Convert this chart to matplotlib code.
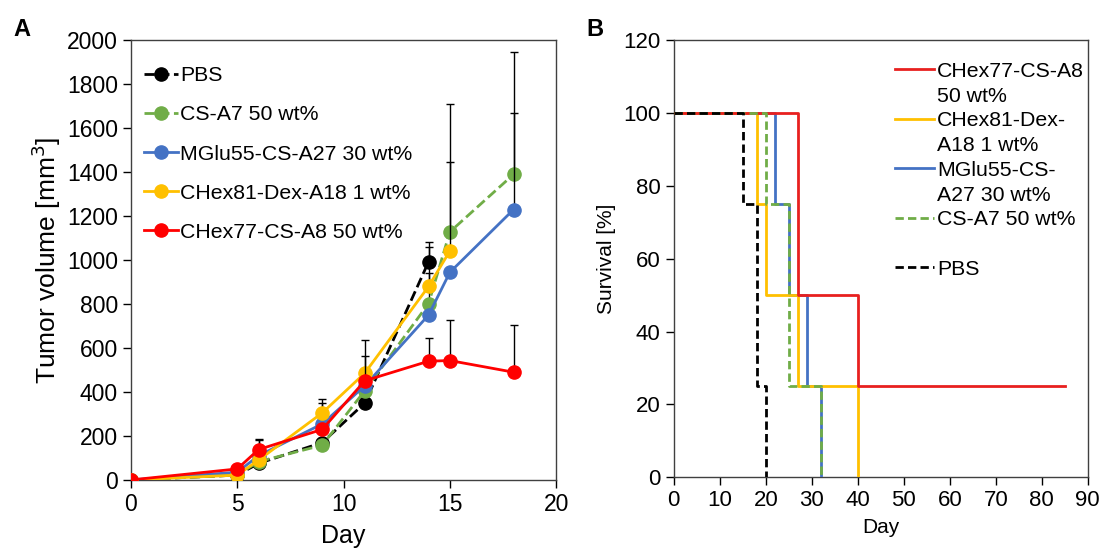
import numpy as np
import matplotlib
matplotlib.use("Agg")
import matplotlib.pyplot as plt
from matplotlib.lines import Line2D

plt.rcParams["font.family"] = ["Liberation Sans", "DejaVu Sans"]

# ---- panel A: tumor volume ----
days = [0, 5, 6, 9, 11, 14, 15, 18]
pbs_days = [0, 5, 6, 9, 11, 14]
pbs_vol = [0, 22, 75, 170, 350, 992]
pbs_err = [0, 0, 20, 0, 0, 88]
csa7_vol = [0, 22, 83, 158, 406, 802, 1128, 1390]
csa7_err = [0, 0, 0, 0, 0, 140, 580, 558]
mglu_vol = [0, 35, 110, 255, 428, 750, 944, 1230]
mglu_err = [0, 0, 0, 93, 0, 0, 0, 440]
chex81_vol = [0, 22, 90, 305, 486, 880, 1041]
chex81_err = [0, 0, 90, 63, 150, 180, 404]
chex77_vol = [0, 50, 138, 230, 451, 540, 543, 490]
chex77_err = [0, 0, 50, 0, 113, 107, 183, 214]

# ---- panel B: survival ----
surv_pbs_d = [0, 15, 18, 20]
surv_pbs = [100, 75, 25, 0]
surv_chex81_d = [0, 18, 20, 27, 40]
surv_chex81 = [100, 75, 50, 25, 0]
surv_csa7_d = [0, 20, 25, 32]
surv_csa7 = [100, 75, 25, 0]
surv_mglu_d = [0, 22, 25, 29, 32]
surv_mglu = [100, 75, 50, 25, 0]
surv_chex77_d = [0, 27, 40, 85]
surv_chex77 = [100, 50, 25, 25]

RED = "#FF0000"
YEL = "#FFC000"
BLU = "#4472C4"
GRN = "#70AD47"
BLK = "#000000"

fig = plt.figure(figsize=(11.1, 5.51), dpi=100)
ax = fig.add_axes([0.118, 0.129, 0.383, 0.798])
bx = fig.add_axes([0.607, 0.134, 0.373, 0.793])

def series(x, y, err, color, ls, label, z):
    n = len(y)
    x = x[:n]
    ax.errorbar(x, y, yerr=[np.zeros(n), err], fmt="none", ecolor="black",
                elinewidth=1.0, capsize=3, capthick=1.0, zorder=z - 0.5)
    ax.plot(x, y, ls, color=color, lw=2, marker="o", markersize=9.5,
            label=label, zorder=z)

series(pbs_days, pbs_vol, pbs_err, BLK, "--", "PBS", 3)
series(days, csa7_vol, csa7_err, GRN, "--", "CS-A7 50 wt%", 4)
series(days, mglu_vol, mglu_err, BLU, "-", "MGlu55-CS-A27 30 wt%", 5)
series(days, chex81_vol, chex81_err, YEL, "-", "CHex81-Dex-A18 1 wt%", 6)
series(days, chex77_vol, chex77_err, RED, "-", "CHex77-CS-A8 50 wt%", 7)

ax.set_xlim(0, 20)
ax.set_ylim(0, 2000)
ax.set_xticks(range(0, 21, 5))
ax.set_yticks(range(0, 2001, 200))
ax.tick_params(direction="out", length=6, labelsize=16.5, width=1)
ax.set_xlabel("Day", fontsize=18, labelpad=6)
ax.set_ylabel("Tumor volume [mm$^3$]", fontsize=19, labelpad=3)
for s in ax.spines.values():
    s.set_linewidth(1)
    s.set_color("#404040")
ax.legend(loc="upper left", bbox_to_anchor=(0.0, 0.97), frameon=False,
          fontsize=15.3, handlelength=1.6, handletextpad=0.1,
          labelspacing=0.95, borderaxespad=0.2)

# survival steps
bx.plot(surv_chex77_d, surv_chex77, drawstyle="steps-post", color="#E8201F", lw=2, zorder=5)
bx.plot(surv_chex81_d, surv_chex81, drawstyle="steps-post", color=YEL, lw=2, zorder=4)
bx.plot(surv_mglu_d, surv_mglu, drawstyle="steps-post", color=BLU, lw=2, zorder=3)
bx.plot(surv_csa7_d, surv_csa7, drawstyle="steps-post", color=GRN, lw=2, ls=(0, (3, 1.5)), zorder=6)
bx.plot(surv_pbs_d, surv_pbs, drawstyle="steps-post", color=BLK, lw=2, ls=(0, (3, 1.5)), zorder=7)

bx.set_xlim(0, 90)
bx.set_ylim(0, 120)
bx.set_xticks(range(0, 91, 10))
bx.set_yticks(range(0, 121, 20))
bx.tick_params(direction="out", length=6, labelsize=16, width=1)
bx.set_xlabel("Day", fontsize=15, labelpad=5)
bx.set_ylabel("Survival [%]", fontsize=15, labelpad=5)
for s in bx.spines.values():
    s.set_linewidth(1)
    s.set_color("#404040")

blank = Line2D([], [], color="none")
handles = [
    Line2D([], [], color="#E8201F", lw=2), blank,
    Line2D([], [], color=YEL, lw=2), blank,
    Line2D([], [], color=BLU, lw=2), blank,
    Line2D([], [], color=GRN, lw=2, ls=(0, (3, 1.5))), blank,
    Line2D([], [], color=BLK, lw=2, ls=(0, (3, 1.5))),
]
labels = ["CHex77-CS-A8", "50 wt%", "CHex81-Dex-", "A18 1 wt%",
          "MGlu55-CS-", "A27 30 wt%", "CS-A7 50 wt%", "", "PBS"]
bx.legend(handles, labels, loc="upper left", bbox_to_anchor=(0.515, 0.97),
          frameon=False, fontsize=15.3, handlelength=1.8, handletextpad=0.15,
          labelspacing=0.27, borderaxespad=0.0)

fig.text(0.012, 0.935, "A", fontsize=17, fontweight="bold")
fig.text(0.528, 0.935, "B", fontsize=17, fontweight="bold")

fig.savefig("out.png", dpi=100)
